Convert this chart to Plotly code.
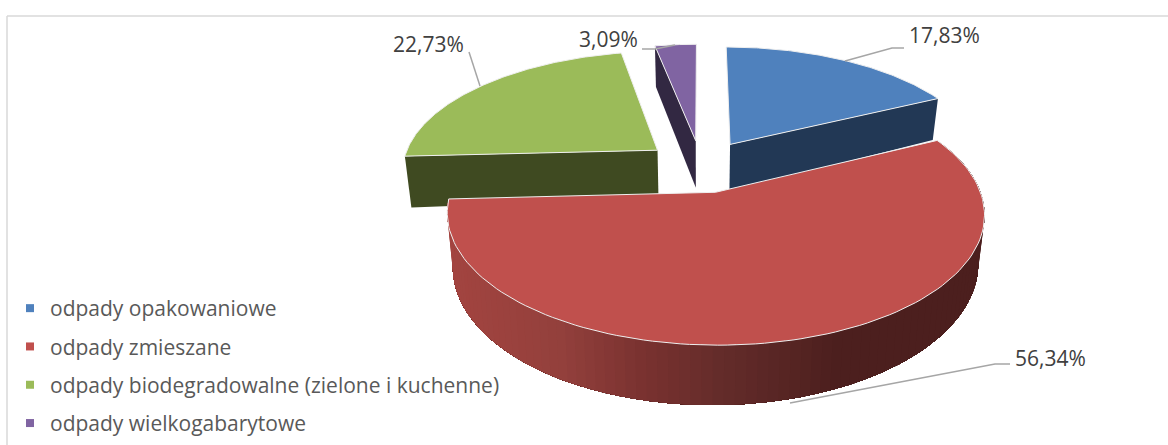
import numpy as np
import plotly.graph_objects as go

categories = ["odpady opakowaniowe", "odpady zmieszane",
              "odpady biodegradowalne (zielone i kuchenne)", "odpady wielkogabarytowe"]
values = [17.83, 56.34, 22.73, 3.09]
labels = ["17,83%", "56,34%", "22,73%", "3,09%"]
top_colors = ["#4f81bd", "#c0504d", "#9bbb59", "#8064a2"]
wall_colors = ["#223855", "#c0504d", "#3f4a21", "#322842"]

# projection of the tilted, exploded pie
CX, CY, A, B, K = 701, 166, 256, 119.2, 0.159
PULL, DEPTH, SHRINK, LEAN = 0.22, 48.5, 0.022, 0.06


def project(X, Y, down=False):
    d = 1 + K * Y
    x = A * X / d
    y = -B * Y / d
    if down:
        x = x * (1 - SHRINK)
        y = y + DEPTH * (1 - LEAN * X) / d
    return CX + x, CY + y


def slices():
    start = 0.0
    total = sum(values)
    for v in values:
        sweep = 2 * np.pi * v / total
        yield start, start + sweep
        start += sweep


fig = go.Figure()


def poly(xs, ys, color, line=None, width=0):
    fig.add_trace(go.Scatter(x=list(xs), y=list(ys), mode="lines" if width else "none", fill="toself",
                             fillcolor=color, showlegend=False, hoverinfo="skip",
                             line=dict(color=line or color, width=width)))


def outline(a0, a1, n=120):
    th = np.linspace(a0, a1, n)
    mid = (a0 + a1) / 2
    ox, oy = PULL * np.sin(mid), PULL * np.cos(mid)
    return ox, oy, ox + np.sin(th), oy + np.cos(th)


def radial_wall(a, ox, oy, color):
    X = np.array([ox, ox + np.sin(a)])
    Y = np.array([oy, oy + np.cos(a)])
    x0, y0 = project(X, Y)
    x1, y1 = project(X, Y, True)
    poly([x0[0], x0[1], x1[1], x1[0], x0[0]], [y0[0], y0[1], y1[1], y1[0], y0[0]], color)


def top(a0, a1, color):
    ox, oy, X, Y = outline(a0, a1)
    x, y = project(np.r_[ox, X, ox], np.r_[oy, Y, oy])
    poly(x, y, color, line="#efefef", width=1)


def lerp_rgb(stops, t):
    pos = [s[0] for s in stops]
    r = np.interp(t, pos, [s[1][0] for s in stops])
    g = np.interp(t, pos, [s[1][1] for s in stops])
    b = np.interp(t, pos, [s[1][2] for s in stops])
    return f"rgb({r:.0f},{g:.0f},{b:.0f})"


GRAD = [(447, (163, 68, 64)), (560, (147, 64, 60)), (640, (122, 50, 48)),
        (720, (100, 44, 42)), (840, (76, 31, 30)), (990, (76, 31, 30))]

sl = list(slices())

# wall + top of the back slices
for i in [2, 3, 0]:
    a0, a1 = sl[i]
    ox, oy, _, _ = outline(a0, a1)
    radial_wall(a1 if i == 0 else a0, ox, oy, wall_colors[i])
    top(a0, a1, top_colors[i])

# front slice: shaded outer wall, painted from the dark end to the light end
a0, a1 = sl[1]
ox, oy, X, Y = outline(a0, a1, 100)
x0, y0 = project(X, Y)
x1, y1 = project(X, Y, True)
for j in range(len(X) - 1):
    col = lerp_rgb(GRAD, (x0[j] + x0[j + 1]) / 2)
    poly(np.r_[x0[j:], x1[j:][::-1], x0[j]], np.r_[y0[j:], y1[j:][::-1], y0[j]], col)
top(a0, a1, top_colors[1])

# leader lines
leaders = [([845, 892, 904], [61, 48, 48]), ([790, 995, 1010], [403, 364, 364]),
           ([480, 469], [86, 52]), ([675, 655, 642], [45, 49, 49])]
for lx, ly in leaders:
    fig.add_trace(go.Scatter(x=lx, y=ly, mode="lines", showlegend=False, hoverinfo="skip",
                             line=dict(color="#a6a6a6", width=1.5)))

# data labels
label_pos = [(944, 35), (1050, 358), (428, 44), (608, 39)]
for t, (lx, ly) in zip(labels, label_pos):
    fig.add_annotation(x=lx, y=ly, text=t, showarrow=False,
                       font=dict(family="Open Sans", size=21, color="#404040"))

# legend entries
for name, c in zip(categories, top_colors):
    fig.add_trace(go.Scatter(x=[None], y=[None], mode="markers", name=name, legendgroup=name,
                             marker=dict(symbol="square", size=8, color=c)))

# frame of the chart area
fig.add_shape(type="line", xref="paper", yref="paper", x0=7 / 1168, x1=1, y0=1 - 16 / 445, y1=1 - 16 / 445,
              line=dict(color="#d9d9d9", width=1.5))
fig.add_shape(type="line", xref="paper", yref="paper", x0=7 / 1168, x1=7 / 1168, y0=0, y1=1 - 16 / 445,
              line=dict(color="#d9d9d9", width=1.5))

fig.update_layout(
    width=1168, height=445, margin=dict(l=0, r=0, t=0, b=0),
    paper_bgcolor="white", plot_bgcolor="white",
    xaxis=dict(range=[0, 1168], visible=False, fixedrange=True),
    yaxis=dict(range=[445, 0], visible=False, fixedrange=True),
    legend=dict(x=10 / 1168, y=1 - 288 / 445, xanchor="left", yanchor="top",
                traceorder="grouped", tracegroupgap=8, itemwidth=30,
                font=dict(family="Open Sans", size=21, color="#595959"),
                bgcolor="rgba(0,0,0,0)"),
)
fig.write_html("out.html", config={"displayModeBar": False},
               post_script="document.body.style.margin='0';document.body.style.overflow='hidden';")
